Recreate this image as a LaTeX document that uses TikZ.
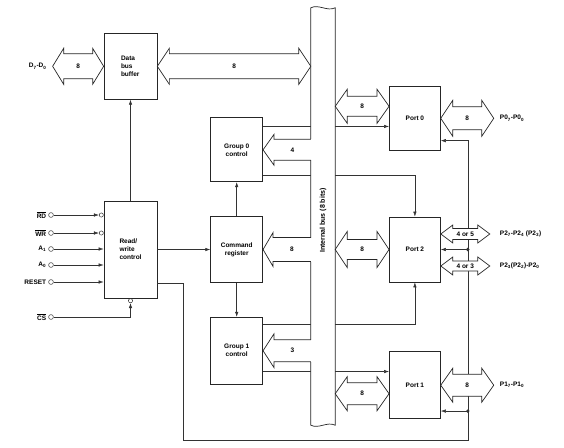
\documentclass[tikz,border=0pt]{standalone}
\usepackage{fontspec}
\setmainfont{Liberation Sans}
\usetikzlibrary{positioning, arrows.meta, calc}
\newcommand{\lblfont}{\fontsize{6.5}{8}\selectfont\bfseries}
\tikzset{
	sig/.style={-{Latex[length=5pt,width=3.4pt]}, line width=0.5pt, draw=black!80},
	fatline/.style={draw=black!85, line width=0.7pt, fill=white, line join=miter}
}
\newcommand{\dblfat}[6]{%
	\draw[fatline] let \p1=#1, \p2=#2 in
		(\x1,\y1) -- (\x1+#5pt,\y1+#4pt) -- (\x1+#5pt,\y1+#3pt) -- (\x2-#5pt,\y1+#3pt)
		-- (\x2-#5pt,\y1+#4pt) -- (\x2,\y1) -- (\x2-#5pt,\y1-#4pt) -- (\x2-#5pt,\y1-#3pt)
		-- (\x1+#5pt,\y1-#3pt) -- (\x1+#5pt,\y1-#4pt) -- cycle
		({(\x1+\x2)/2},\y1) node[lbl] {#6};}
\newcommand{\busfat}[6]{%
	\fill[white] let \p1=#1, \p2=#2 in (\x1+#5pt,\y1+#3pt) rectangle (\x2+1pt,\y1-#3pt);
	\draw[fatline, fill=none] let \p1=#1, \p2=#2 in
		(\x2,\y1+#3pt) -- (\x1+#5pt,\y1+#3pt) -- (\x1+#5pt,\y1+#4pt) -- (\x1,\y1)
		-- (\x1+#5pt,\y1-#4pt) -- (\x1+#5pt,\y1-#3pt) -- (\x2,\y1-#3pt)
		({(\x1+#5pt+\x2)/2},\y1) node[lbl] {#6};}

\begin{document}
\begin{tikzpicture}[x=1pt, y=-1pt,
		box/.style={draw=black!85, line width=0.7pt, minimum width=53pt, inner sep=0pt, align=center, font=\lblfont},
		lbl/.style={font=\lblfont, inner sep=1pt},
		term/.style={circle, draw=black!80, line width=0.5pt, minimum size=4.8pt, inner sep=0pt},
		bubble/.style={circle, draw=black!80, line width=0.5pt, minimum size=4.2pt, inner sep=0pt}
		]
		\useasboundingbox (0,0) rectangle (564,447);

		\node[box, minimum height=97pt, text width=22pt, align=left] (rwctl) at (130.5,249.5) {Read/\\write\\control};
		\node[box, minimum height=66pt, text width=19pt, align=left, above=101pt of rwctl] (buffer) {Data\\bus\\buffer};
		\node[box, minimum width=52pt, minimum height=66pt, right=53pt of rwctl] (cmdreg) {Command\\register};
		\node[box, minimum width=52pt, minimum height=64pt, above=34pt of cmdreg] (grp0) {Group 0\\control};
		\node[box, minimum width=52pt, minimum height=67pt, below=34pt of cmdreg] (grp1) {Group 1\\control};

		\node[minimum width=24pt, minimum height=417pt, inner sep=0pt] (bus) at (323,216.5) {};

		\node[box, minimum width=51pt, minimum height=65pt, right=126pt of cmdreg] (port2) {Port 2};
		\node[box, minimum width=51pt, minimum height=64pt, above=66pt of port2] (port0) {Port 0};
		\node[box, minimum width=51pt, minimum height=67pt, below=69pt of port2] (port1) {Port 1};

		\node[term, label={[lbl, label distance=1pt]left:$\overline{\mbox{RD}}$}] (rdin) at (51,215) {};
		\node[term, label={[lbl, label distance=1pt]left:$\overline{\mbox{WR}}$}] (wrin) at (51,233) {};
		\node[term, label={[lbl, label distance=1pt]left:A\textsubscript{1}}] (a1in) at (51,249) {};
		\node[term, label={[lbl, label distance=1pt]left:A\textsubscript{0}}] (a0in) at (51,265) {};
		\node[term, label={[lbl, label distance=1pt]left:RESET}] (rstin) at (51,282) {};
		\node[term, label={[lbl, label distance=1pt]left:$\overline{\mbox{CS}}$}] (csin) at (51,317) {};

		\node[bubble, anchor=east] (rdb) at (rwctl.west |- rdin) {};
		\node[bubble, anchor=east] (wrb) at (rwctl.west |- wrin) {};
		\node[bubble, anchor=north] (csb) at (rwctl.south) {};

		\draw[sig] (rdin) -- (rdb);
		\draw[sig] (wrin) -- (wrb);
		\draw[sig] (a1in) -- (a1in -| rwctl.west);
		\draw[sig] (a0in) -- (a0in -| rwctl.west);
		\draw[sig] (rstin) -- (rstin -| rwctl.west);
		\draw[sig] (csin) -| (csb);

		\draw[sig] (rwctl.north) -- (buffer.south);
		\draw[sig] (rwctl.east |- cmdreg.west) -- (cmdreg.west);
		\draw[sig] (cmdreg.north) -- (grp0.south);
		\draw[sig] (cmdreg.south) -- (grp1.north);

		\coordinate (g0a) at ([yshift=-9pt]grp0.north east);
		\coordinate (g0b) at ([yshift=7pt]grp0.south east);
		\coordinate (g1a) at ([yshift=-7pt]grp1.north east);
		\coordinate (g1b) at ([yshift=13pt]grp1.south east);
		\draw[sig] (g0a) -- (g0a -| port0.west);
		\draw[sig] (g0b) -| (port2.north);
		\draw[sig] (g1a) -| (port2.south);
		\draw[sig] (g1b) -- (g1b -| port1.west);

		\coordinate (rwo) at ([yshift=15pt]rwctl.south east);
		\coordinate (rstcol) at ([xshift=27pt]port0.east);
		\coordinate (p0r) at ([yshift=10pt]port0.south east);
		\coordinate (p2r) at (port2.east);
		\coordinate (p1r) at ([yshift=8pt]port1.south east);
		\coordinate (p2j) at (rstcol |- p2r);
		\coordinate (p1j) at (rstcol |- p1r);
		\draw[sig] (rwo) -- ++(26,0) |- ($(port1.south -| rstcol)+(0,21)$) -- (rstcol |- p0r) -- (p0r);
		\draw[sig] (p2j) -- (p2r);
		\draw[sig] (p1j) -- (p1r);
		\fill[black!80] (p2j) circle (1.8);
		\fill[black!80] (p1j) circle (1.8);

		\draw[fatline] (bus.north west) .. controls +(8,-4) and +(-8,4) .. (bus.north east)
			-- (bus.south east) .. controls +(-8,-4) and +(8,4) .. (bus.south west) -- cycle;
		\node[lbl, rotate=90, font=\fontsize{7}{8}\selectfont\bfseries] (buslbl) at ([yshift=-4pt]bus.center) {Internal bus (8 bits)};

		\busfat{(grp0.east)}{(bus.west)}{10.5}{15.5}{11}{4}
		\busfat{(cmdreg.west -| cmdreg.east)}{(bus.west)}{12}{17}{10}{8}
		\busfat{(grp1.east)}{(bus.west)}{11}{17}{11}{3}

		\coordinate (dtip) at ([xshift=-51pt]buffer.west);
		\dblfat{(dtip)}{(buffer.west)}{12.5}{18}{11}{8}
		\node[lbl, anchor=east] (dlbl) at ([xshift=-5pt]dtip) {D\textsubscript{7}-D\textsubscript{0}};
		\dblfat{(buffer.east)}{(bus.west |- buffer.east)}{12.5}{18}{12}{8}

		\coordinate (p0in) at ([yshift=12pt]port0.west);
		\coordinate (p1in) at ([yshift=-8.5pt]port1.west);
		\dblfat{(bus.east |- p0in)}{(p0in)}{10}{17}{12}{8}
		\dblfat{(bus.east |- port2.west)}{(port2.west)}{10}{18}{12}{8}
		\dblfat{(bus.east |- p1in)}{(p1in)}{11}{17}{12}{8}

		\coordinate (p2hi) at ([yshift=15.5pt]port2.east);
		\coordinate (p2lo) at ([yshift=-16.5pt]port2.east);
		\dblfat{(port0.east)}{([xshift=53pt]port0.east)}{11.5}{18}{12}{8}
		\dblfat{(p2hi)}{([xshift=49pt]p2hi)}{5.5}{9}{12}{4 or 5}
		\dblfat{(p2lo)}{([xshift=49pt]p2lo)}{5}{9}{12}{4 or 3}
		\dblfat{(port1.east)}{([xshift=53pt]port1.east)}{11}{17}{12}{8}

		\node[lbl, anchor=west] (p0lbl) at ([xshift=58pt]port0.east) {P0\textsubscript{7}-P0\textsubscript{0}};
		\node[lbl, anchor=west] (p2hlbl) at ([xshift=58pt]p2hi) {P2\textsubscript{7}-P2\textsubscript{4} (P2\textsubscript{3})};
		\node[lbl, anchor=west] (p2llbl) at ([xshift=58pt]p2lo) {P2\textsubscript{3}(P2\textsubscript{2})-P2\textsubscript{0}};
		\node[lbl, anchor=west] (p1lbl) at ([xshift=58pt]port1.east) {P1\textsubscript{7}-P1\textsubscript{0}};
	\end{tikzpicture}
\end{document}
